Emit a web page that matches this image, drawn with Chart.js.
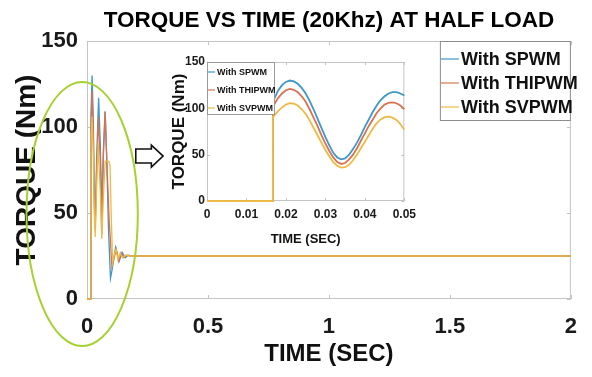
<!DOCTYPE html>
<html>
<head>
<meta charset="utf-8">
<script src="https://cdn.jsdelivr.net/npm/chart.js@4.4.0/dist/chart.umd.min.js"></script>
<style>
  html, body { margin: 0; padding: 0; background: #fff; }
  #wrap { position: relative; width: 592px; height: 377px; }
  #mainChart  { position: absolute; left: 0; top: 0; }
  #insetChart { position: absolute; left: 160px; top: 52px; }
</style>
</head>
<body>
<div id="wrap">
  <canvas id="mainChart" width="592" height="377"></canvas>
  <canvas id="insetChart" width="262" height="198"></canvas>
</div>
<script>
// ===== DATA =====
const seriesNames  = ['With SPWM', 'With THIPWM', 'With SVPWM'];
const seriesColors = ['#3f97c7', '#d8724f', '#edbb45'];

const mainTicksX  = [0, 0.5, 1, 1.5, 2];
const mainTicksY  = [0, 50, 100, 150];
const insetTicksX = [0, 0.01, 0.02, 0.03, 0.04, 0.05];
const insetTicksY = [0, 50, 100, 150];

// full run, 0 - 2 s
const spwmT = [0, 0.0167, 0.0167, 0.021, 0.026, 0.030, 0.034, 0.040, 0.048, 0.055, 0.061, 0.068, 0.075, 0.081, 0.089, 0.097, 0.105, 0.118, 0.133, 0.146, 0.158, 0.170, 0.185, 2];
const spwmY = [0, 0, 108, 130, 104, 63, 45, 82, 117, 90, 52, 88, 109, 84, 40, 12, 18, 30, 22, 27, 24, 25.5, 25, 25];

const thipT = [0, 0.0167, 0.0167, 0.021, 0.026, 0.030, 0.034, 0.040, 0.047, 0.055, 0.061, 0.068, 0.075, 0.082, 0.092, 0.103, 0.112, 0.121, 0.131, 0.141, 0.151, 0.163, 0.178, 2];
const thipY = [0, 0, 103, 121, 96, 57, 40, 75, 106, 80, 38, 84, 109, 80, 45, 19, 24, 29, 22, 27, 24, 25.5, 25, 25];

const svT = [0, 0.0167, 0.0167, 0.021, 0.026, 0.030, 0.034, 0.040, 0.046, 0.050, 0.055, 0.061, 0.068, 0.075, 0.090, 0.095, 0.100, 0.106, 0.113, 0.120, 0.128, 0.137, 0.147, 0.160, 0.175, 2];
const svY = [0, 0, 91, 106, 85, 50, 36, 65, 91, 77, 62, 35, 60, 80, 80, 78, 50, 21, 26, 29, 23, 26.5, 24, 25.5, 25, 25];

// zoomed window, 0 - 0.05 s
const insetT = [0, 0.0167, 0.0167, 0.017, 0.018, 0.019, 0.020, 0.021, 0.022, 0.023, 0.024, 0.025, 0.026, 0.027, 0.028, 0.029, 0.030, 0.031, 0.032, 0.033, 0.034, 0.035, 0.036, 0.037, 0.038, 0.039, 0.040, 0.041, 0.042, 0.043, 0.044, 0.045, 0.046, 0.047, 0.048, 0.049, 0.050];
const spwmInset = [0, 0, 108, 110, 119, 125, 128.5, 130, 129, 126.5, 122, 116, 108, 99, 89, 79, 69, 60, 52, 47, 45, 46, 50, 56, 63, 71, 80, 88, 96, 103, 109, 113, 116, 117.5, 117.5, 116, 114];
const thipInset = [0, 0, 103, 104, 111, 116, 119.5, 121, 120, 117.5, 113, 107, 99, 90, 81, 71, 62, 54, 47, 42, 40, 41, 45, 50, 57, 65, 73, 81, 88, 95, 100, 104, 106, 106.5, 105.5, 103, 99];
const svInset   = [0, 0, 91, 92, 97, 101, 104, 105.5, 105, 103, 99, 94, 87, 79, 71, 63, 55, 48, 42, 38, 36, 36.5, 39, 44, 50, 57, 64, 71, 78, 84, 88, 90.5, 91, 90, 87.5, 83, 77];

// highlight ellipse + arrow, in data units of the main axes
const ringCenter = { x: -0.02, y: 49.4 };
const ringRadius = { x: 0.23, y: 76.7 };
const arrowShape = [[0.2016, 87.2], [0.266, 87.2], [0.266, 89.5], [0.3145, 83.1], [0.266, 76.7], [0.266, 79.1], [0.2016, 79.1]];

const FONT = '"Liberation Sans", Arial, sans-serif';
const zip = (xs, ys) => xs.map((x, i) => ({ x, y: ys[i] }));

// ===== PLUGINS =====
const framePlugin = {
  id: 'frame',
  beforeDatasetsDraw(chart, args, opts) {
    const { ctx, chartArea: a, scales: { x, y } } = chart;
    ctx.save();
    ctx.strokeStyle = '#c4c4c4';
    ctx.lineWidth = 1;
    ctx.strokeRect(a.left + 0.5, a.top + 0.5, a.width - 1, a.height - 1);
    ctx.beginPath();
    x.ticks.forEach(t => {
      const px = Math.round(x.getPixelForValue(t.value)) + 0.5;
      ctx.moveTo(px, a.bottom); ctx.lineTo(px, a.bottom - opts.tick);
      ctx.moveTo(px, a.top);    ctx.lineTo(px, a.top + opts.tick);
    });
    y.ticks.forEach(t => {
      const py = Math.round(y.getPixelForValue(t.value)) + 0.5;
      ctx.moveTo(a.left, py);  ctx.lineTo(a.left + opts.tick, py);
      ctx.moveTo(a.right, py); ctx.lineTo(a.right - opts.tick, py);
    });
    ctx.stroke();
    ctx.restore();
  }
};

const boxLegend = {
  id: 'boxLegend',
  afterDraw(chart, args, o) {
    const { ctx, chartArea: a } = chart;
    const left = o.alignRight ? a.right - o.width : a.left;
    const top = a.top;
    ctx.save();
    ctx.fillStyle = '#fff';
    ctx.fillRect(left, top, o.width, o.height);
    ctx.strokeStyle = o.border;
    ctx.lineWidth = 1;
    ctx.strokeRect(left + 0.5, top + 0.5, o.width - 1, o.height - 1);
    ctx.font = `bold ${o.size}px ${FONT}`;
    ctx.textBaseline = 'middle';
    chart.data.datasets.forEach((ds, i) => {
      const yy = top + o.first + i * o.step;
      ctx.strokeStyle = ds.borderColor;
      ctx.lineWidth = 1.2;
      ctx.beginPath();
      ctx.moveTo(left + 1, yy); ctx.lineTo(left + 1 + o.line, yy);
      ctx.stroke();
      ctx.fillStyle = '#111';
      ctx.fillText(ds.label, left + o.line + 3, yy + 1);
    });
    ctx.restore();
  }
};

const highlight = {
  id: 'highlight',
  afterDraw(chart) {
    const { ctx, scales: { x, y } } = chart;
    const cx = x.getPixelForValue(ringCenter.x), cy = y.getPixelForValue(ringCenter.y);
    const rx = x.getPixelForValue(ringCenter.x + ringRadius.x) - cx;
    const ry = cy - y.getPixelForValue(ringCenter.y + ringRadius.y);
    ctx.save();
    ctx.strokeStyle = '#a6d133';
    ctx.lineWidth = 2;
    ctx.beginPath();
    ctx.ellipse(cx, cy, rx, ry, 0, 0, Math.PI * 2);
    ctx.stroke();

    ctx.beginPath();
    arrowShape.forEach(([vx, vy], i) => {
      const px = x.getPixelForValue(vx), py = y.getPixelForValue(vy);
      i ? ctx.lineTo(px, py) : ctx.moveTo(px, py);
    });
    ctx.closePath();
    ctx.fillStyle = '#fff';
    ctx.fill();
    ctx.strokeStyle = '#111';
    ctx.lineWidth = 1.6;
    ctx.stroke();
    ctx.restore();
  }
};

function makeDatasets(pairs, width) {
  return pairs.map((data, i) => ({
    label: seriesNames[i],
    data,
    borderColor: seriesColors[i],
    borderWidth: width,
    pointRadius: 0,
    tension: 0,
    clip: 3,
    order: 2 - i,  // SVPWM on top, like the MATLAB plot
  }));
}

function axis(ticksArr, min, max, size, pad, title) {
  return {
    type: 'linear',
    min, max,
    afterBuildTicks: s => { s.ticks = ticksArr.map(v => ({ value: v })); },
    ticks: {
      color: '#1a1a1a',
      font: { family: FONT, size, weight: 'bold' },
      padding: pad,
      callback: v => String(v),
      maxRotation: 0,
    },
    grid: { display: false, drawTicks: false },
    border: { display: false },
    title,
  };
}

// ===== MAIN CHART =====
const mainX = axis(mainTicksX, 0, 2, 22, 15, {
  display: true, text: 'TIME (SEC)', color: '#111',
  font: { family: FONT, size: 24, weight: 'bold' }, padding: { top: 0, bottom: 8 },
});
mainX.afterFit = s => { s.height = 78; };
const mainY = axis(mainTicksY, 0, 150, 22, 9, {
  display: true, text: 'TORQUE (Nm)', color: '#111',
  font: { family: FONT, size: 28, weight: 'bold' }, padding: { top: 10, bottom: 0 },
});
mainY.afterFit = s => { s.width = 87; };

new Chart(document.getElementById('mainChart'), {
  type: 'line',
  data: { datasets: makeDatasets([zip(spwmT, spwmY), zip(thipT, thipY), zip(svT, svY)], 1.3) },
  options: {
    responsive: false,
    devicePixelRatio: 1,
    animation: false,
    events: [],
    layout: { padding: { left: 0, right: 9, top: 0, bottom: 0 } },
    scales: { x: mainX, y: mainY },
    plugins: {
      legend: { display: false },
      tooltip: { enabled: false },
      title: {
        display: true,
        fullSize: false,
        text: 'TORQUE VS TIME (20Khz) AT HALF LOAD',
        color: '#000',
        font: { family: FONT, size: 22.5, weight: 'bold' },
        padding: { top: 7, bottom: 7 },
      },
      frame: { tick: 4 },
      boxLegend: { alignRight: true, width: 131, height: 80, first: 18, step: 24, line: 18, size: 18, border: '#8c8c8c' },
    }
  },
  plugins: [framePlugin, boxLegend, highlight]
});

// ===== INSET =====
const insX = axis(insetTicksX, 0, 0.05, 12, 6, {
  display: true, text: 'TIME (SEC)', color: '#111',
  font: { family: FONT, size: 13, weight: 'bold' }, padding: { top: 0, bottom: 3 },
});
insX.afterFit = s => { s.height = 49; };
const insY = axis(insetTicksY, 0, 150, 12, 2, {
  display: true, text: 'TORQUE (Nm)', color: '#111',
  font: { family: FONT, size: 17, weight: 'bold' }, padding: { top: 9, bottom: 0 },
});
insY.afterFit = s => { s.width = 47; };

new Chart(document.getElementById('insetChart'), {
  type: 'line',
  data: { datasets: makeDatasets([zip(insetT, spwmInset), zip(insetT, thipInset), zip(insetT, svInset)], 1.8) },
  options: {
    responsive: false,
    devicePixelRatio: 1,
    animation: false,
    events: [],
    layout: { padding: { left: 0, right: 4, top: 10, bottom: 0 } },
    scales: { x: insX, y: insY },
    plugins: {
      legend: { display: false },
      tooltip: { enabled: false },
      frame: { tick: 3 },
      boxLegend: { alignRight: false, width: 68, height: 53, first: 10, step: 18, line: 7, size: 9, border: '#9a9a9a' },
    }
  },
  plugins: [framePlugin, boxLegend]
});
</script>
</body>
</html>
